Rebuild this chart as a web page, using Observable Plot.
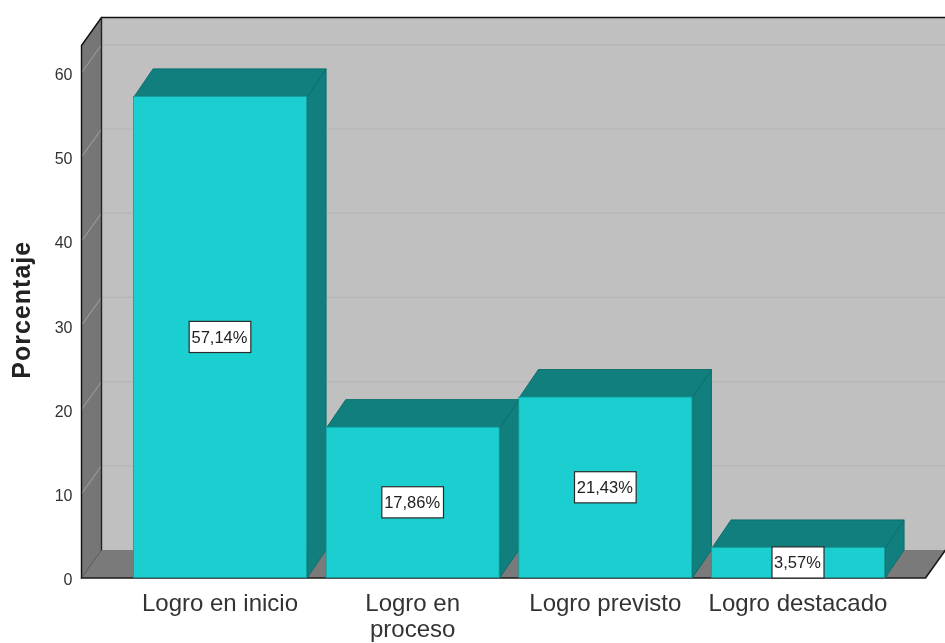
<!DOCTYPE html>
<html>
<head>
<meta charset="utf-8">
<script src="https://cdn.jsdelivr.net/npm/d3@7"></script>
<script src="https://cdn.jsdelivr.net/npm/@observablehq/plot@0.6"></script>
<style>
html,body{margin:0;padding:0;background:#fff}
svg{display:block;filter:blur(0.6px)}
</style>
</head>
<body>
<div id="chart"></div>
<script>
const categories = ["Logro en inicio", "Logro en\nproceso", "Logro previsto", "Logro destacado"];
const values = [57.14, 17.86, 21.43, 3.57];
const valueLabels = ["57,14%", "17,86%", "21,43%", "3,57%"];
const yTicks = [0, 10, 20, 30, 40, 50, 60];
const yTitle = "Porcentaje";

const depthX = 0.1038, depthY = 3.325, barDepthX = 0.099, barHalf = 0.449;
const xMin = -0.7214, xMax = 3.763, yTop = 66.57;
const xFront = xMax - depthX, yFront = yTop - depthY, xBack = xMin + depthX;

const poly = (pts) => pts.map(([x, y]) => ({x, y}));
const bars = categories.map((c, i) => ({i, c, v: values[i], label: valueLabels[i]}));

const tops = bars.map(b => poly([[b.i-barHalf,b.v],[b.i+barHalf,b.v],[b.i+barHalf+barDepthX,b.v+depthY],[b.i-barHalf+barDepthX,b.v+depthY],[b.i-barHalf,b.v]]));
const sides = bars.map(b => poly([[b.i+barHalf,0],[b.i+barHalf,b.v],[b.i+barHalf+barDepthX,b.v+depthY],[b.i+barHalf+barDepthX,depthY],[b.i+barHalf,0]]));

const shape = (pts, o) => Plot.line(pts, {x:"x", y:"y", ...o});
const barMarks = bars.flatMap((b, k) => [
  shape(sides[k], {fill:"#107f7d", stroke:"#0d6f6d", strokeWidth:1}),
  shape(tops[k], {fill:"#107f7d", stroke:"#0d6f6d", strokeWidth:1}),
  Plot.rect([b], {x1:d=>d.i-barHalf, x2:d=>d.i+barHalf, y1:0, y2:"v", fill:"#1bcfd0", stroke:"#159c9c", strokeWidth:0.8})
]);

const labelBoxes = bars.map(b => ({...b, w: b.i === 3 ? 0.135 : 0.16}));

const chart = Plot.plot({
  width: 945, height: 643,
  marginLeft: 81, marginRight: 0, marginTop: 17, marginBottom: 65.5,
  x: {type:"linear", domain:[xMin, xMax], axis:null},
  y: {type:"linear", domain:[0, yTop], axis:null},
  style: {background:"#fff", fontFamily:"'Liberation Sans', Arial, sans-serif", overflow:"visible"},
  marks: [
    // back wall
    shape(poly([[xBack,depthY],[xMax,depthY],[xMax,yTop],[xBack,yTop],[xBack,depthY]]), {fill:"#c0c0c0"}),
    // side wall
    shape(poly([[xMin,0],[xBack,depthY],[xBack,yTop],[xMin,yFront],[xMin,0]]), {fill:"#767676"}),
    // floor
    shape(poly([[xMin,0],[xBack,depthY],[xMax,depthY],[xFront,0],[xMin,0]]), {fill:"#7a7a7a"}),
    // gridlines
    Plot.ruleY(yTicks.filter(t => t > 0), {y:t => t + depthY, x1:xBack, x2:xMax, stroke:"#b5b5b5", strokeWidth:1.2}),
    ...yTicks.filter(t => t > 0).map(t => shape(poly([[xMin,t],[xBack,t+depthY]]), {stroke:"#a3a3a3", strokeWidth:1})),
    // frame lines
    shape(poly([[xMin,0],[xMin,yFront],[xBack,yTop],[xMax,yTop]]), {stroke:"#111", strokeWidth:1.4}),
    shape(poly([[xBack,depthY],[xBack,yTop]]), {stroke:"#222", strokeWidth:1.4}),
    shape(poly([[xMin,0],[xBack,depthY]]), {stroke:"#555", strokeWidth:1}),
    shape(poly([[xMin,0],[xFront,0],[xMax,depthY]]), {stroke:"#1a1a1a", strokeWidth:1.6}),
    // bars
    ...barMarks,
    // value labels
    Plot.rect(labelBoxes, {x1:d=>d.i-d.w, x2:d=>d.i+d.w, y1:d=>d.v/2-1.85, y2:d=>d.v/2+1.85, fill:"#fff", stroke:"#2a2a2a", strokeWidth:1.2}),
    Plot.text(bars, {x:"i", y:d=>d.v/2, text:"label", fontSize:16.5, dx:-1, fill:"#222"}),
    // axis
    Plot.axisY({ticks:yTicks, tickSize:0, tickPadding:9, dy:2, label:null, fontSize:16, color:"#333", anchor:"left"}),
    Plot.text([yTitle], {x:-1.0, y:31.5, rotate:-90, fontSize:25, fontWeight:"bold", fill:"#222", dx:-6, dy:-3, className:"ytitle"}),
    Plot.text(bars, {x:"i", y:0, text:"c", fontSize:24, lineHeight:1.06, lineAnchor:"top", dy:15, dx:-0.5, fill:"#333", textAnchor:"middle"})
  ]
});
d3.select(chart).selectAll(".ytitle text").style("letter-spacing", "1px");
document.getElementById("chart").appendChild(chart);
</script>
</body>
</html>
